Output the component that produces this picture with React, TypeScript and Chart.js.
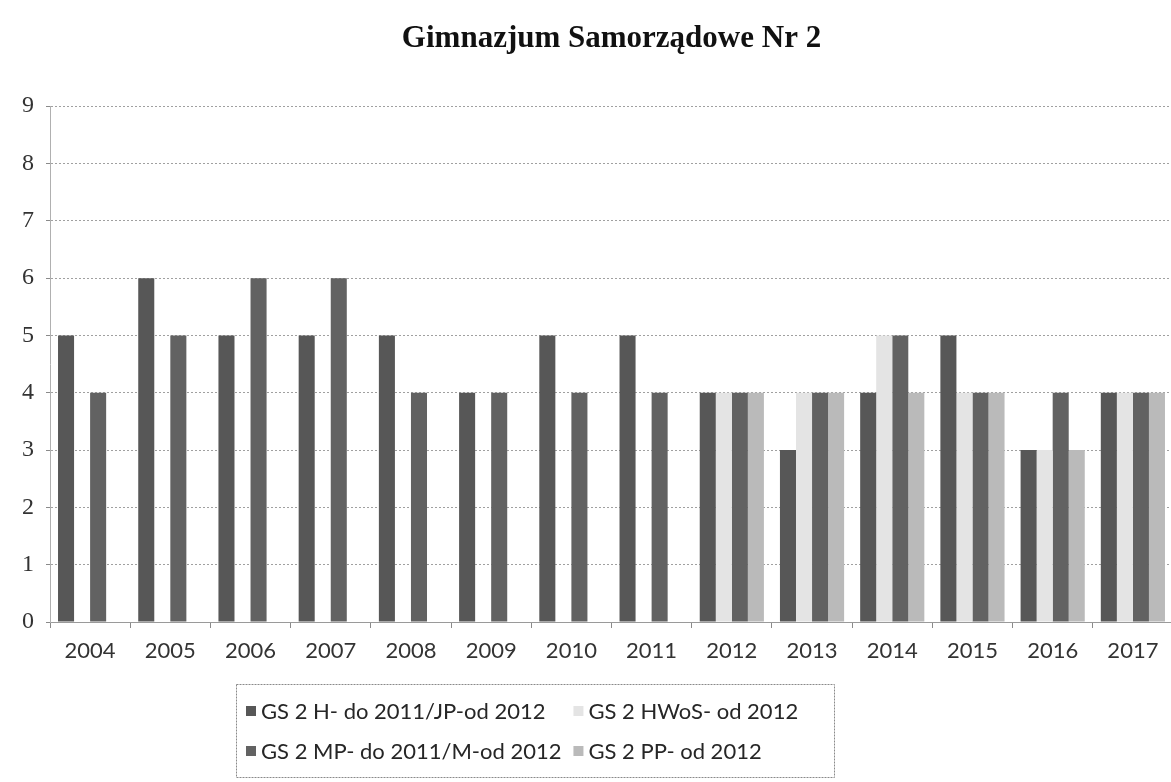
import React, { useEffect, useRef } from 'react';
import { Chart, registerables } from 'chart.js';

Chart.register(...registerables);

const chartTitle = 'Gimnazjum Samorządowe Nr 2';
const years = ['2004', '2005', '2006', '2007', '2008', '2009', '2010', '2011', '2012', '2013', '2014', '2015', '2016', '2017'];
const seriesLabels = [
  'GS 2 H- do 2011/JP-od 2012',
  'GS 2 HWoS- od 2012',
  'GS 2 MP- do 2011/M-od 2012',
  'GS 2 PP- od 2012',
];
const hJp = [5, 6, 5, 5, 5, 4, 5, 5, 4, 3, 4, 5, 3, 4];
const hwos = [null, null, null, null, null, null, null, null, 4, 4, 5, 4, 3, 4];
const mpM = [4, 5, 6, 6, 4, 4, 4, 4, 4, 4, 5, 4, 4, 4];
const pp = [null, null, null, null, null, null, null, null, 4, 4, 4, 4, 3, 4];
const seriesColors = ['#575757', '#e4e4e4', '#626262', '#bababa'];
const yMin = 0;
const yMax = 9;
const yStep = 1;

const boxLegend = {
  id: 'boxLegend',
  afterDraw(chart: any) {
    const ctx = chart.ctx as CanvasRenderingContext2D;
    const ds = chart.data.datasets;
    ctx.save();
    ctx.font = '22px Lato';
    const left = 236;
    const top = 684;
    const width = 598;
    const height = 93;
    ctx.strokeStyle = '#8a8a8a';
    ctx.lineWidth = 1;
    ctx.setLineDash([2, 1]);
    ctx.strokeRect(left + 0.5, top + 0.5, width, height);
    ctx.setLineDash([]);
    const col1Swatch = 246;
    const col1Text = 261;
    const w0 = ctx.measureText(ds[0].label).width;
    const w2 = ctx.measureText(ds[2].label).width;
    const col2Swatch = col1Text + Math.max(w0, w2) + 12;
    const col2Text = col2Swatch + 15;
    const rows = [711, 751];
    const places = [
      [col1Swatch, col1Text, rows[0]],
      [col2Swatch, col2Text, rows[0]],
      [col1Swatch, col1Text, rows[1]],
      [col2Swatch, col2Text, rows[1]],
    ];
    ds.forEach((d: any, i: number) => {
      const [sx, tx, cy] = places[i];
      ctx.fillStyle = d.backgroundColor;
      ctx.fillRect(sx, cy - 5, 10, 10);
      ctx.fillStyle = '#262626';
      ctx.textBaseline = 'middle';
      ctx.textAlign = 'left';
      ctx.fillText(d.label, tx, cy + 1);
    });
    ctx.restore();
  },
};

export default function App() {
  const ref = useRef<HTMLCanvasElement>(null);
  useEffect(() => {
    const values = [hJp, hwos, mpM, pp];
    const chart = new Chart(ref.current as HTMLCanvasElement, {
      type: 'bar',
      data: {
        labels: years,
        datasets: values.map((v, i) => ({
          label: seriesLabels[i],
          data: v,
          backgroundColor: seriesColors[i],
          borderWidth: 0,
          categoryPercentage: 0.8,
          barPercentage: 1,
        })),
      },
      options: {
        responsive: true,
        maintainAspectRatio: false,
        animation: false,
        layout: { padding: { left: 0, right: 12, top: 0, bottom: 100 } },
        plugins: {
          title: {
            display: true,
            text: chartTitle,
            fullSize: false,
            color: '#111',
            font: { family: 'Liberation Serif', size: 31, weight: 'bold' },
            padding: { top: 20, bottom: 49 },
          },
          legend: { display: false },
          tooltip: { enabled: false },
        },
        scales: {
          x: {
            offset: true,
            grid: {
              display: true,
              offset: true,
              drawOnChartArea: false,
              drawTicks: true,
              tickLength: 6,
              tickColor: '#8a8a8a',
            },
            border: { display: true, color: '#9a9a9a' },
            ticks: {
              padding: 10,
              color: '#333',
              font: { family: 'Lato', size: 22 },
              maxRotation: 0,
              autoSkip: false,
            },
            afterFit: (s: any) => {
              s.height = 60;
            },
          },
          y: {
            min: yMin,
            max: yMax,
            ticks: {
              stepSize: yStep,
              padding: 12,
              color: '#333',
              font: { family: 'Liberation Serif', size: 24 },
            },
            grid: { color: '#a0a0a0', tickLength: 4, tickColor: '#8a8a8a' },
            border: { display: true, color: '#b0b0b0', dash: [2, 2] },
            afterFit: (s: any) => {
              s.width = 50;
            },
          },
        },
      },
      plugins: [boxLegend],
    });
    return () => chart.destroy();
  }, []);
  return (
    <div
      style={{
        position: 'fixed',
        left: 0,
        top: 0,
        width: 1171,
        height: 782,
        overflow: 'hidden',
        background: '#fff',
      }}
    >
      <div style={{ position: 'relative', width: 1185, height: 782 }}>
        <canvas ref={ref} />
      </div>
    </div>
  );
}
